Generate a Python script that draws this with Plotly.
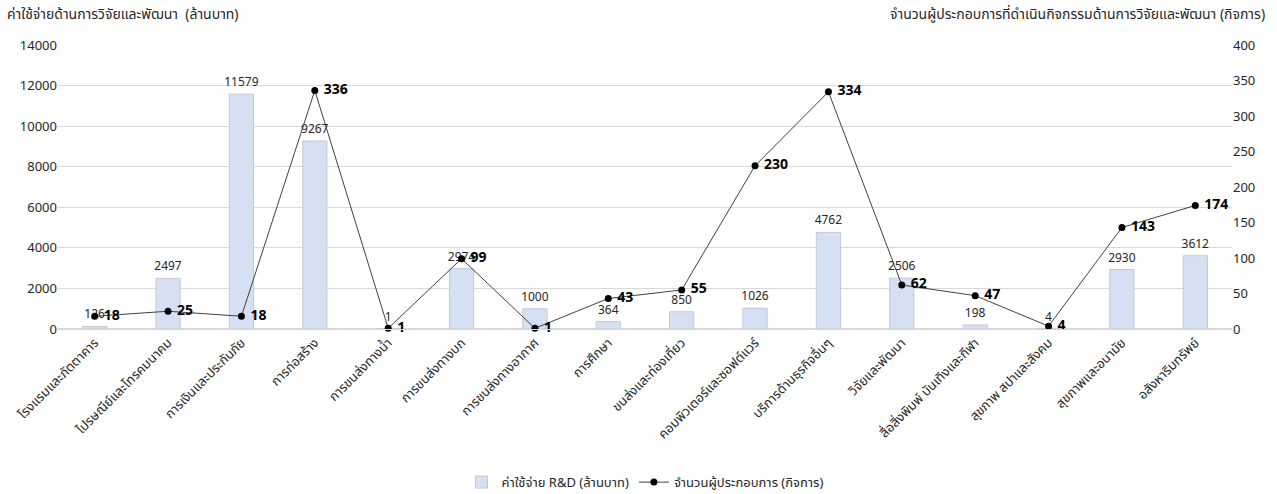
import plotly.graph_objects as go

categories = [
    "โรงแรมและภัตตาคาร",
    "ไปรษณีย์และโทรคมนาคม",
    "การเงินและประกันภัย",
    "การก่อสร้าง",
    "การขนส่งทางน้ำ",
    "การขนส่งทางบก",
    "การขนส่งทางอากาศ",
    "การศึกษา",
    "ขนส่งและท่องเที่ยว",
    "คอมพิวเตอร์และซอฟต์แวร์",
    "บริการด้านธุรกิจอื่นๆ",
    "วิจัยและพัฒนา",
    "สื่อสิ่งพิมพ์ บันเทิงและกีฬา",
    "สุขภาพ สปาและสังคม",
    "สุขภาพและอนามัย",
    "อสังหาริมทรัพย์",
]
rd_expense = [126, 2497, 11579, 9267, 1, 2974, 1000, 364, 850, 1026, 4762, 2506, 198, 4, 2930, 3612]
operators = [18, 25, 18, 336, 1, 99, 1, 43, 55, 230, 334, 62, 47, 4, 143, 174]

FONT = "Tahoma, 'Noto Sans Thai', 'Noto Sans', sans-serif"
TXT = "#262626"

fig = go.Figure()
fig.add_trace(go.Bar(
    x=categories, y=rd_expense, name="ค่าใช้จ่าย R&D (ล้านบาท)",
    marker=dict(color="#D6E0F3", line=dict(color="#C4C8D0", width=1)),
    text=[str(v) for v in rd_expense], textposition="outside", textangle=0,
    constraintext="none",
    textfont=dict(size=12, color=TXT), cliponaxis=False, yaxis="y",
))
fig.add_trace(go.Scatter(
    x=categories, y=operators, name="จำนวนผู้ประกอบการ (กิจการ)",
    mode="lines+markers+text",
    line=dict(color="#404040", width=1),
    marker=dict(color="#000000", size=7),
    text=[f"\u00a0<b>{v}</b>" for v in operators], textposition="middle right",
    textfont=dict(size=14, color="#000000"), cliponaxis=False, yaxis="y2",
))

fig.update_layout(
    width=1277, height=494,
    margin=dict(l=58, r=45, t=45, b=165),
    paper_bgcolor="white", plot_bgcolor="white",
    font=dict(family=FONT, size=12, color=TXT),
    bargap=0.67,
    showlegend=True,
    legend=dict(orientation="h", x=0.5, xanchor="center", xref="paper",
                y=0.024, yanchor="middle", yref="container",
                font=dict(size=13, color=TXT), traceorder="normal"),
    xaxis=dict(tickangle=-45, tickfont=dict(size=13, color=TXT), showgrid=False,
               range=[-0.5, len(categories) - 0.5],
               showline=True, linecolor="#D9D9D9", ticks="", automargin=False),
    yaxis=dict(range=[0, 14000], dtick=2000, tickformat="d", showgrid=True, gridcolor="#D9D9D9",
               zeroline=True, zerolinecolor="#D9D9D9", tickfont=dict(size=13, color=TXT),
               automargin=False),
    yaxis2=dict(range=[0, 400], dtick=50, tickformat="d", overlaying="y", side="right",
                showgrid=False, zeroline=False, tickfont=dict(size=13, color=TXT),
                automargin=False),
    annotations=[
        dict(text="ค่าใช้จ่ายด้านการวิจัยและพัฒนา  (ล้านบาท)", xref="paper", yref="paper",
             x=-0.045, y=1.0, yshift=31, xanchor="left", yanchor="middle", showarrow=False,
             font=dict(size=14, color=TXT)),
        dict(text="จำนวนผู้ประกอบการที่ดำเนินกิจกรรมด้านการวิจัยและพัฒนา (กิจการ)", xref="paper", yref="paper",
             x=1.0, y=1.0, xshift=35, yshift=31, xanchor="right", yanchor="middle", showarrow=False,
             font=dict(size=14, color=TXT)),
    ],
)

fig.write_html("out.html")
